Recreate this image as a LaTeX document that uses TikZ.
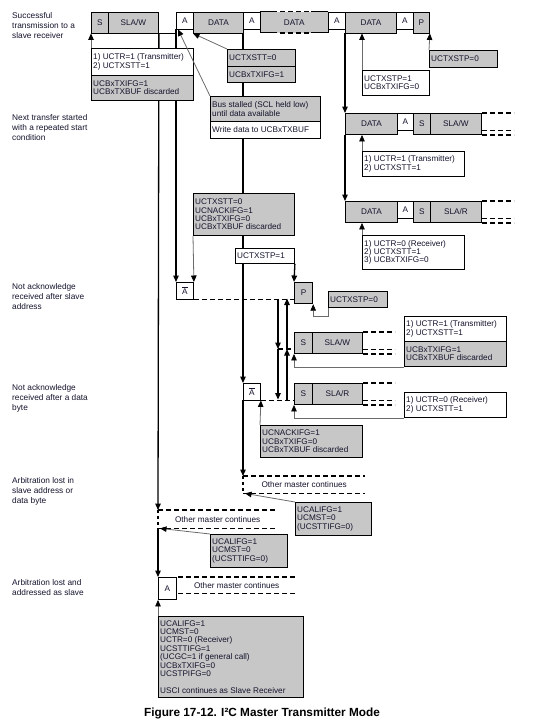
\documentclass[tikz,border=0pt]{standalone}
\usepackage{fontspec}
\setmainfont{Liberation Sans}
\usetikzlibrary{arrows.meta}
\pgfdeclarelayer{bg}
\pgfsetlayers{bg,main}
\definecolor{boxgray}{gray}{0.78}
\definecolor{txtc}{RGB}{20,20,45}
\definecolor{infoc}{gray}{0.42}
\newcommand{\cbx}[7]{\node[#1,anchor=north west,minimum width=#5pt,minimum height=#6pt] (#2) at (#3,#4) {#7};}
\newcommand{\ibx}[7]{\node[#1,anchor=north west,minimum width=#5pt,minimum height=#6pt] (#2) at (#3,#4) {};
  \node[txt,anchor=west,align=left,xshift=2pt] (#2t) at (#2.west) {#7};}
\newcommand{\nack}{$\overline{\hbox{A}}$}
\begin{document}
\begin{tikzpicture}[x=1pt,y=-1pt,
  txt/.style={font=\fontsize{8.2}{8.4}\selectfont, text=txtc, inner sep=0pt},
  lbl/.style={font=\fontsize{8.3}{10}\selectfont, text=txtc, inner sep=0pt, align=left, anchor=north west},
  gbox/.style={draw=black, line width=0.9pt, fill=boxgray, inner sep=0pt, txt},
  wbox/.style={draw=black, line width=0.9pt, fill=white, inner sep=0pt, txt},
  bline/.style={line width=0.9pt, black},
  main/.style={line width=1.3pt, black},
  tip/.style={-{Triangle[length=6.5pt,width=5.5pt]}},
  info/.style={line width=0.8pt, draw=infoc, -{Triangle[length=6.5pt,width=5.5pt,color=black]}},
  dsh/.style={line width=1.6pt, dash pattern=on 5pt off 3pt},
]
\useasboundingbox (0,0) rectangle (538,724);

% ---- left labels
\node[lbl] (l1) at (12,12.5) {Successful\\transmission to a\\slave receiver};
\node[lbl] (l2) at (12,114.5) {Next transfer started\\with a repeated start\\condition};
\node[lbl] (l3) at (12,283.5) {Not acknowledge\\received after slave\\address};
\node[lbl] (l4) at (12,384.5) {Not acknowledge\\received after a data\\byte};
\node[lbl] (l5) at (12,477.5) {Arbitration lost in\\slave address or\\data byte};
\node[lbl] (l6) at (12,579.5) {Arbitration lost and\\addressed as slave};

% ---- top row
\cbx{gbox}{s1}{91}{11.5}{17}{21}{S}
\cbx{gbox}{sw1}{108}{11.5}{50}{21}{SLA/W}
\cbx{wbox}{a1}{176}{11.5}{17}{17}{A}
\cbx{gbox}{d1}{193}{11.5}{50}{21}{DATA}
\cbx{wbox}{a2}{243}{11.5}{17}{17}{A}
\node[fill=boxgray, anchor=north west, minimum width=68pt, minimum height=21pt, inner sep=0pt, txt] (d2) at (260,11.5) {DATA};
\draw[bline] (d2.north west) -- (d2.south west);
\draw[bline] (d2.north east) -- (d2.south east);
\draw[bline] (d2.north west) -- ([xshift=17pt]d2.north west);
\draw[bline] (d2.south west) -- ([xshift=17pt]d2.south west);
\draw[bline] ([xshift=-17pt]d2.north east) -- (d2.north east);
\draw[bline] ([xshift=-17pt]d2.south east) -- (d2.south east);
\draw[line width=1.2pt, dash pattern=on 5pt off 3pt] ([xshift=20pt]d2.north west) -- ([xshift=-17pt]d2.north east);
\draw[line width=1.2pt, dash pattern=on 5pt off 3pt] ([xshift=20pt]d2.south west) -- ([xshift=-17pt]d2.south east);
\cbx{wbox}{a3}{328}{11.5}{17}{17}{A}
\cbx{gbox}{d3}{345}{11.5}{51}{21}{DATA}
\cbx{wbox}{a4}{396}{11.5}{17}{17}{A}
\cbx{gbox}{p1}{413}{11.5}{16}{21}{P}
\draw[bline] (sw1.south east) -- (sw1.south east -| a1.west);

% ---- row 2 and 3 (repeated start)
\cbx{gbox}{d4}{345}{113}{52}{21}{DATA}
\cbx{wbox}{a5}{397}{113}{16}{17}{A}
\cbx{gbox}{s2}{413}{113}{17}{21}{S}
\cbx{gbox}{sw2}{430}{113}{51}{21}{SLA/W}
\cbx{gbox}{d5}{345}{201}{52}{21}{DATA}
\cbx{wbox}{a6}{397}{201}{16}{17}{A}
\cbx{gbox}{s3}{413}{201}{17}{21}{S}
\cbx{gbox}{sr1}{430}{201}{51}{21}{SLA/R}
\foreach \n in {sw2,sr1}{
  \draw[dsh] (\n.north east) -- ++(32,0);
  \draw[dsh] ([yshift=4.5pt]\n.south east) -- ++(32,0);
  \draw[dsh] (\n.south east) -- ++(32,0);
}

% ---- not acknowledge rows
\cbx{wbox}{nb1}{176}{282}{17}{16.5}{\nack}
\node[draw=black, line width=1.2pt, fill=boxgray, inner sep=0pt, txt, anchor=north west, minimum width=18pt, minimum height=21pt] (p2) at (294,282) {P};
\cbx{gbox}{s4}{294}{332}{18}{21}{S}
\cbx{gbox}{sw4}{312}{332}{50}{21}{SLA/W}
\cbx{wbox}{nb2}{243}{383}{17}{16.5}{\nack}
\cbx{gbox}{s5}{294}{383}{18}{21}{S}
\cbx{gbox}{sr2}{312}{383}{50}{21}{SLA/R}
\foreach \n in {sw4,sr2}{
  \draw[dsh] (\n.north east) -- ++(32,0);
  \draw[dsh] ([yshift=4.5pt]\n.south east) -- ++(32,0);
  \draw[dsh] (\n.south east) -- ++(32,0);
}
\draw[dsh] (nb1.south east) -- (nb1.south east -| p2.west);
\coordinate (l1a) at (278,298.5);
\coordinate (l1b) at (278,349);
\coordinate (l1c) at (278,399.5);
\coordinate (l2a) at (287,298.5);
\coordinate (l2b) at (287,349);
\coordinate (l2c) at (287,399.5);
\draw[dsh] (l1b) -- (l1b -| s4.west);
\draw[dsh] (nb2.south east) -- (nb2.south east -| s5.west);

% ---- other master continues boxes
\node[anchor=north west, minimum width=122pt, minimum height=17pt, inner sep=0pt, txt] (om1) at (243,476) {Other master continues};
\draw[dsh] (om1.north west) -- (om1.north east);
\draw[dsh] (om1.south west) -- (om1.south east);
\draw[line width=1.6pt, dash pattern=on 3pt off 3pt] (om1.north west) -- (om1.south west);
\node[anchor=north west, minimum width=119pt, minimum height=18pt, inner sep=0pt, txt] (om2) at (158,510) {Other master continues};
\draw[dsh] (om2.north west) -- (om2.north east);
\draw[dsh] (om2.south west) -- (om2.south east);
\draw[line width=1.6pt, dash pattern=on 3pt off 3pt] (om2.north west) -- (om2.south west);
\cbx{wbox}{abot}{158}{577}{18}{22}{A}
\node[anchor=north west, minimum width=121pt, minimum height=16pt, inner sep=0pt, txt] (om3) at (176,577) {Other master continues};
\draw[dsh] ([xshift=2pt]om3.north west) -- (om3.north east);
\draw[dsh] ([xshift=2pt]om3.south west) -- (om3.south east);

% ---- info boxes
\ibx{wbox}{b1}{91}{48}{102}{27}{1) UCTR=1 (Transmitter)\\2) UCTXSTT=1}
\ibx{gbox}{b1b}{91}{75}{102}{25}{UCBxTXIFG=1\\UCBxTXBUF discarded}
\ibx{gbox}{b2}{227}{49}{68}{17}{UCTXSTT=0}
\ibx{gbox}{b2b}{227}{66}{68}{16}{UCBxTXIFG=1}
\ibx{gbox}{b3}{210}{96}{110}{25}{Bus stalled (SCL held low)\\until data available}
\ibx{wbox}{b3b}{210}{121}{110}{17}{Write data to UCBxTXBUF}
\ibx{wbox}{b4}{362}{70}{67}{25}{UCTXSTP=1\\UCBxTXIFG=0}
\ibx{gbox}{b5}{429}{50}{68}{17}{UCTXSTP=0}
\ibx{wbox}{b6}{362}{151}{102}{25}{1) UCTR=1 (Transmitter)\\2) UCTXSTT=1}
\ibx{wbox}{b7}{362}{235}{102}{34}{1) UCTR=0 (Receiver)\\2) UCTXSTT=1\\3) UCBxTXIFG=0}
\ibx{gbox}{b8}{193}{193}{101}{42}{UCTXSTT=0\\UCNACKIFG=1\\UCBxTXIFG=0\\UCBxTXBUF discarded}
\ibx{wbox}{b9}{235}{248}{59}{15}{UCTXSTP=1}
\ibx{gbox}{b10}{328}{291}{59}{16}{UCTXSTP=0}
\ibx{wbox}{b11}{404}{316}{102}{25}{1) UCTR=1 (Transmitter)\\2) UCTXSTT=1}
\ibx{gbox}{b11b}{404}{341}{102}{25}{UCBxTXIFG=1\\UCBxTXBUF discarded}
\ibx{wbox}{b12}{404}{392}{102}{25}{1) UCTR=0 (Receiver)\\2) UCTXSTT=1}
\ibx{gbox}{b13}{260}{425}{102}{32}{UCNACKIFG=1\\UCBxTXIFG=0\\UCBxTXBUF discarded}
\ibx{gbox}{b14}{295}{502}{76}{33}{UCALIFG=1\\UCMST=0\\(UCSTTIFG=0)}
\ibx{gbox}{b15}{210}{534}{77}{33}{UCALIFG=1\\UCMST=0\\(UCSTTIFG=0)}
\ibx{gbox}{b16}{158}{616}{145}{81}{UCALIFG=1\\UCMST=0\\UCTR=0 (Receiver)\\UCSTTIFG=1\\(UCGC=1 if general call)\\UCBxTXIFG=0\\UCSTPIFG=0\\[8.4pt]USCI continues as Slave Receiver}

% ---- main flow lines (behind boxes)
\begin{pgfonlayer}{bg}
\draw[main,tip] (sw1.south east) -- (om2.north west);
\draw[main,tip] (om2.south west) -- (abot.north west);
\draw[main,tip] (a1.south west) -- (nb1.north west);
\draw[main,tip] (a2.south west) -- (nb2.north west);
\draw[main,tip] (nb2.south west) -- (om1.north west);
\draw[main,tip] (d3.south west) -- (d4.north west);
\draw[main,tip] (d4.south west) -- (d5.north west);
\draw[main,tip] (b9.south east) -- (p2.north west);
\draw[main,tip] (l1a) -- (l1b);
\draw[main,tip] (l1b) -- (l1c);
\draw[main,tip] (l2c) -- (l2b);
\draw[main,tip] (l2b) -- (l2a);
\end{pgfonlayer}

% ---- info arrows
\draw[info] (b1.north west) -- (s1.south west);
\draw[info] (b2.north west) -- (d1.south west);
\draw[info] (b3.north west) -- ([xshift=2pt]a1.south west);
\draw[info] (b4.north west) -- (b4.north west |- d3.south);
\draw[info] (b5.north west) -- (p1.south east);
\draw[info] (b6.north west) -- (b6.north west |- d4.south);
\draw[info] (b7.north west) -- (b7.north west |- d5.south);
\draw[info] (b8.south west) -- (nb1.north east);
\draw[info] (b10.south west) -- ++(0,8) -| (p2.south east);
\draw[info] (b11b.south west) -| (s4.south west);
\draw[info] (b12.south west) -| (s5.south west);
\draw[info] (b13.north west) -- (nb2.south east);
\draw[info] (b14.north west) -- ([xshift=2pt]om1.south west);
\draw[info] (b15.north west) -- ([xshift=2pt]om2.south west);
\draw[info] (b16.north west) -- (abot.south west);

% ---- caption
\node[font=\bfseries\fontsize{11.8}{13}\selectfont, inner sep=0pt] (cap) at (262,713) {Figure 17-12. I²C Master Transmitter Mode};
\end{tikzpicture}
\end{document}
